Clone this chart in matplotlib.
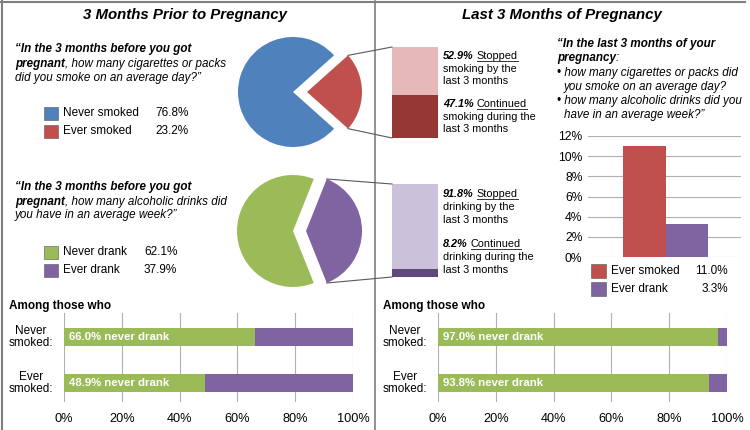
# Smoking and drinking before / during pregnancy - two panel infographic

import numpy as np
import matplotlib.pyplot as plt

plt.rcParams['font.family'] = ['Liberation Sans', 'DejaVu Sans']

W, H = 750, 430

# data
smoke_labels = ['Never smoked', 'Ever smoked']
smoke_pct = [76.8, 23.2]
drink_labels = ['Never drank', 'Ever drank']
drink_pct = [62.1, 37.9]
smoke_split = [52.9, 47.1]   # stopped, continued
drink_split = [91.8, 8.2]
late_labels = ['Ever smoked', 'Ever drank']
late_pct = [11.0, 3.3]
late_ticks = [0, 2, 4, 6, 8, 10, 12]
groups = ['Never\nsmoked:', 'Ever\nsmoked:']
prior_never_drank = [66.0, 48.9]
late_never_drank = [97.0, 93.8]
pct_ticks = [0, 20, 40, 60, 80, 100]

BLUE, RED, GREEN, PURPLE = '#4F81BD', '#C0504D', '#9BBB59', '#8064A2'
PINK, DKRED, LAV, DKPUR = '#E6B9B8', '#953735', '#CCC1DA', '#604A7B'
GRID = '#B0B0B0'
FRAME = '#7F7F7F'
NARROW = ['Liberation Sans Narrow', 'Liberation Sans', 'DejaVu Sans']

fig = plt.figure(figsize=(7.5, 4.3), dpi=100)
renderer = fig.canvas.get_renderer()


def px_axes(x0, y0, x1, y1):
    return fig.add_axes([x0 / W, 1 - y1 / H, (x1 - x0) / W, (y1 - y0) / H])


# ---- pies ----
def draw_pie(cx, cy, r, off, vals, colors):
    L = 72
    ax = px_axes(cx - L, cy - L, cx + L, cy + L)
    half = vals[1] * 3.6 / 2
    ax.pie(vals, colors=colors, startangle=half, explode=[0, off / r],
           wedgeprops=dict(linewidth=0), frame=True)
    ax.set_xlim(-L / r, L / r)
    ax.set_ylim(-L / r, L / r)
    ax.axis('off')
    # outer corners of the exploded wedge (pixels)
    t = np.radians(half)
    px = cx + off + r * np.cos(t)
    return (px, cy - r * np.sin(t)), (px, cy + r * np.sin(t))


c1 = draw_pie(293, 92, 55, 14, smoke_pct, [BLUE, RED])
c2 = draw_pie(293, 231, 56, 13, drink_pct, [GREEN, PURPLE])


# ---- bar of pie ----
def split_bar(y0, y1, split, light, dark):
    ax = px_axes(392, y0, 438, y1)
    ax.bar(0, split[1], width=1, color=dark)
    ax.bar(0, split[0], bottom=split[1], width=1, color=light)
    ax.set_xlim(-0.5, 0.5)
    ax.set_ylim(0, 100)
    ax.axis('off')


split_bar(47, 138, smoke_split, PINK, DKRED)
split_bar(184, 277, drink_split, LAV, DKPUR)

# ---- late pregnancy bar chart ----
ax = px_axes(588, 136, 741, 257)
ax.bar([0, 1], late_pct, width=1, color=[RED, PURPLE], zorder=2)
ax.set_ylim(0, 12)
ax.set_xlim(-1.314, 2.267)
ax.set_yticks(late_ticks)
ax.set_yticklabels([f'{t}%' for t in late_ticks], fontsize=8.7)
ax.set_xticks([])
ax.tick_params(axis='y', length=0, pad=4)
ax.grid(axis='y', color=GRID, lw=0.8, zorder=0)
for s in ax.spines.values():
    s.set_visible(False)


# ---- among those who ----
def among(x0, x1, vals):
    ax = px_axes(x0, 313, x1, 402)
    pos = np.arange(len(vals))
    rest = [100 - v for v in vals]
    ax.barh(pos, vals, height=0.39, color=GREEN, zorder=2)
    ax.barh(pos, rest, left=vals, height=0.39, color=PURPLE, zorder=2)
    for p, v in zip(pos, vals):
        ax.text(1.8, p, f'{v:.1f}% never drank', color='white', fontsize=8.2,
                fontweight='bold', va='center', ha='left', family=NARROW, zorder=3)
    ax.set_xlim(0, 100)
    ax.set_ylim(1 + 19 / 46, -24 / 46)
    ax.set_xticks(pct_ticks)
    ax.set_xticklabels([f'{t}%' for t in pct_ticks], fontsize=9.2)
    ax.set_yticks([])
    ax.tick_params(axis='x', length=0, pad=8)
    ax.grid(axis='x', color=GRID, lw=0.8, zorder=0)
    for s in ax.spines.values():
        s.set_visible(False)


among(64, 353, prior_never_drank)
among(438, 727, late_never_drank)

# ---- overlay for text, frame and connectors ----
ov = fig.add_axes([0, 0, 1, 1])
ov.set_xlim(0, W)
ov.set_ylim(H, 0)
ov.axis('off')

ov.plot([1, 745], [1.5, 1.5], color=FRAME, lw=1.5)
ov.plot([1.5, 1.5], [1, H], color=FRAME, lw=1.5)
ov.plot([375, 375], [1, H], color=FRAME, lw=1.2)

ov.text(185, 15, '3 Months Prior to Pregnancy', fontsize=10.8, fontweight='bold',
        fontstyle='italic', ha='center', va='center')
ov.text(562, 15, 'Last 3 Months of Pregnancy', fontsize=10.8, fontweight='bold',
        fontstyle='italic', ha='center', va='center')


def runs(x, y, parts, size=8, family=None):
    sp = size * 100 / 72 * 0.278
    for txt, weight, style, under in parts:
        if txt.startswith(' '):
            x += sp
            txt = txt.lstrip()
        t = ov.text(x, y, txt, fontsize=size, fontweight=weight, fontstyle=style,
                    va='baseline', ha='left', family=family)
        w = t.get_window_extent(renderer).width
        if under:
            ov.plot([x, x + w], [y + 1.8, y + 1.8], color='#333333', lw=0.7)
        x += w


BI = ('bold', 'italic')
IT = ('normal', 'italic')
RG = ('normal', 'normal')


def line(x, y, *parts, size=8.4, family=None):
    runs(x, y, [(p[0], p[1][0], p[1][1], p[2] if len(p) > 2 else False) for p in parts],
         size=size, family=family)


# question 1
line(15, 52, ('\u201cIn the 3 months before you got', BI))
line(15, 67, ('pregnant', BI), (', how many cigarettes or packs', IT))
line(15, 81, ('did you smoke on an average day?\u201d', IT))
# question 2
line(15, 190, ('\u201cIn the 3 months before you got', BI))
line(15, 205, ('pregnant', BI), (', how many alcoholic drinks did', IT))
line(15, 218, ('you have in an average week?\u201d', IT))
# right question
line(557, 47, ('\u201cIn the last 3 months of your', BI))
line(557, 61, ('pregnancy', BI), (':', IT))
line(557, 76, ('\u2022 how many cigarettes or packs did', IT))
line(564, 90, ('you smoke on an average day?', IT))
line(557, 104, ('\u2022 how many alcoholic drinks did you', IT))
line(564, 118, ('have in an average week?\u201d', IT))


# bar-of-pie labels
def split_text(y, pct, word):
    line(443, y, (f'{pct}%', BI), (f' {word}', RG, True), size=7.8, family=NARROW)


def plain(x, y, s):
    line(x, y, (s, RG), size=7.8, family=NARROW)


split_text(59, smoke_split[0], 'Stopped')
plain(443, 72, 'smoking by the')
plain(443, 84, 'last 3 months')
split_text(107, smoke_split[1], 'Continued')
plain(443, 120, 'smoking during the')
plain(443, 132, 'last 3 months')
split_text(197, drink_split[0], 'Stopped')
plain(443, 210, 'drinking by the')
plain(443, 223, 'last 3 months')
split_text(247, drink_split[1], 'Continued')
plain(443, 260, 'drinking during the')
plain(443, 273, 'last 3 months')

# connectors
ov.plot([c1[0][0], 392], [c1[0][1], 47], color='#595959', lw=0.8)
ov.plot([c1[1][0], 392], [c1[1][1], 138], color='#595959', lw=0.8)
ov.plot([c2[0][0], 392], [c2[0][1], 184], color='#595959', lw=0.8)
ov.plot([c2[1][0], 392], [c2[1][1], 277], color='#595959', lw=0.8)


# legends
def legend(x, ys, labels, vals, colors, vx, ha='left', sq=14):
    for y, lab, v, c in zip(ys, labels, vals, colors):
        ov.add_patch(plt.Rectangle((x, y - sq / 2 + 0.5), sq, sq - 1, facecolor=c,
                                   edgecolor='#555555', lw=0.4))
        ov.text(x + sq + 5, y, lab, fontsize=8.5, va='center', ha='left')
        ov.text(vx, y, f'{v:.1f}%', fontsize=8.5, va='center', ha=ha)


legend(44, [113, 131], smoke_labels, smoke_pct, [BLUE, RED], 155)
legend(44, [252, 270], drink_labels, drink_pct, [GREEN, PURPLE], 144)
legend(591, [271, 289], late_labels, late_pct, [RED, PURPLE], 728, ha='right', sq=15)

# among those who headings + group labels
for x0, cx in [(9, 31), (383, 405)]:
    ov.text(x0, 306, 'Among those who', fontsize=8.5, fontweight='bold', va='center')
    for g, y in zip(groups, [337, 383]):
        ov.text(cx, y, g, fontsize=8.5, ha='center', va='center', multialignment='center',
                linespacing=1.1)

fig.savefig('out.png', dpi=100)
